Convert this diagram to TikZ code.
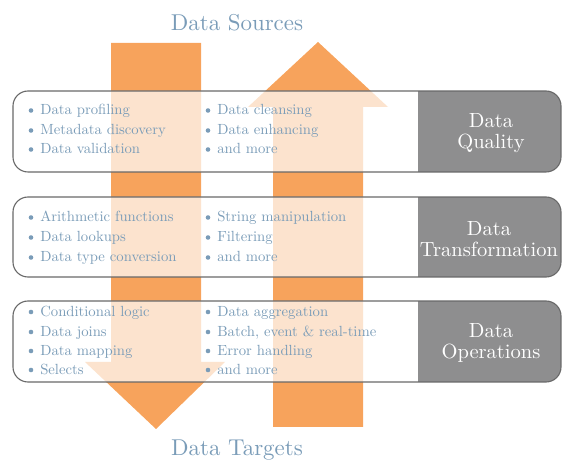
\documentclass[tikz,border=0pt]{standalone}
\usepackage{tikz}
\usetikzlibrary{calc}
\pgfdeclarelayer{bg}
\pgfsetlayers{bg,main}
\definecolor{arrorange}{RGB}{247,163,92}
\definecolor{txtblue}{RGB}{122,156,184}
\definecolor{lblgray}{RGB}{142,142,143}
\definecolor{rimgray}{RGB}{105,105,105}
\tikzset{
  itemtext/.style={anchor=base west, inner sep=0pt, text=txtblue, font=\fontsize{10}{12}\selectfont, scale=1.47},
  lbltext/.style={text=white, align=center, inner sep=0pt, font=\fontsize{10}{10.2}\selectfont, scale=2.05},
  titletext/.style={anchor=base, text=txtblue, font=\fontsize{10}{12}\selectfont, scale=2.29},
  panel/.style={rounded corners=15},
  rim/.style={draw=rimgray, line width=1.1pt, rounded corners=15}
}

\begin{document}
\begin{tikzpicture}[x=1pt,y=-1pt]
    \useasboundingbox (0,0) rectangle (563,462);
    \node [titletext] (src) at (237,31) {Data Sources};
    \node [titletext] (tgt) at (237,456) {Data Targets};

    \begin{pgfonlayer}{bg}    % the two big arrows
        \fill[arrorange] (111,43) -- (201,43) -- (201,362) -- (225,362) -- (156,429) -- (85,362) -- (111,362) -- cycle;
        \fill[arrorange] (273,427) -- (273,107) -- (248,107) -- (318,42) -- (388,107) -- (363,107) -- (363,427) -- cycle;
    \end{pgfonlayer}

    % panels
    \foreach \top/\bot/\name in {91/172/qual, 197/277/trans, 301/382/oper} {
        \fill[white, opacity=0.7, panel] (13,\top) rectangle (561,\bot);
        \begin{scope}
            \clip[panel] (13,\top) rectangle (561,\bot);
            \fill[lblgray] (418,\top) rectangle (561,\bot);
        \end{scope}
        \draw[rim] (13,\top) rectangle (561,\bot);
    }
    \node [lbltext] (qual) at (491,133) {Data\\Quality};
    \node [lbltext] (trans) at (489,239) {Data\\Transformation};
    \node [lbltext] (oper) at (491,343) {Data\\Operations};

    % bullet lists
    \foreach \t/\y [count=\i] in {Data profiling/115, Metadata discovery/135, Data validation/154,
        Arithmetic functions/222, Data lookups/242, Data type conversion/262,
        Conditional logic/316.5, Data joins/336.5, Data mapping/355.5, Selects/374.5} {
        \fill[txtblue] (31,\y-4.5) circle [radius=2.3pt];
        \node [itemtext] (a\i) at (40,\y) {\t};
    }
    \foreach \t/\y [count=\i] in {Data cleansing/115, Data enhancing/135, and more/154,
        String manipulation/222, Filtering/242, and more/262,
        Data aggregation/316.5, {Batch, event \& real-time}/336.5, Error handling/355.5, and more/374.5} {
        \fill[txtblue] (208,\y-4.5) circle [radius=2.3pt];
        \node [itemtext] (b\i) at (217,\y) {\t};
    }
\end{tikzpicture}
\end{document}
